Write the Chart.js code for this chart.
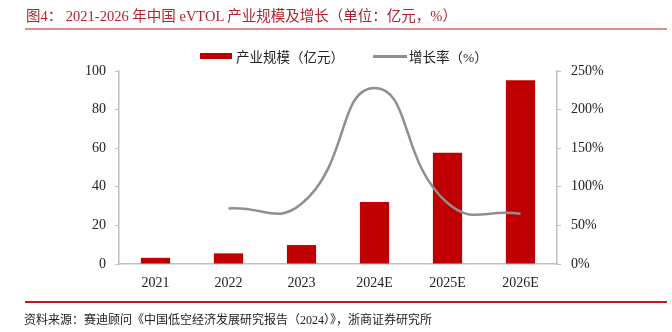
<!DOCTYPE html>
<html>
<head>
<meta charset="utf-8">
<script src="https://cdn.jsdelivr.net/npm/chart.js@4"></script>
<style>
  html, body { margin: 0; padding: 0; background: #fff; }
  #wrap { position: relative; width: 672px; height: 332px; overflow: hidden; }
  #chart { position: absolute; left: 0; top: 0; }
  .txt { position: absolute; white-space: nowrap; font-family: "Liberation Serif", "Noto Sans CJK SC", serif; }
  #title { left: 26px; top: 4px; font-size: 14.5px; color: #b3232b; }
  #topRule { position: absolute; left: 25px; top: 28px; width: 642px; height: 1.5px; background: #e08a8e; }
  #bottomRule { position: absolute; left: 25px; top: 301px; width: 642px; height: 1.5px; background: #c8161e; }
  #source { left: 24px; top: 310px; font-size: 12px; color: #222; }
  .legBox { position: absolute; left: 200px; top: 53px; width: 32px; height: 6px; background: #c00000; }
  .legLine { position: absolute; left: 373px; top: 55px; width: 34px; height: 2.5px; background: #8f8f8f; }
  #leg1 { left: 236px; top: 46px; font-size: 13.5px; color: #222; }
  #leg2 { left: 409px; top: 46px; font-size: 13.5px; color: #222; }
</style>
</head>
<body>
<div id="wrap">
  <canvas id="chart" width="672" height="332"></canvas>
  <div class="txt" id="title">图4：&nbsp;2021-2026 年中国 eVTOL 产业规模及增长（单位：亿元，%）</div>
  <div id="topRule"></div>
  <div class="legBox"></div>
  <div class="txt" id="leg1">产业规模（亿元）</div>
  <div class="legLine"></div>
  <div class="txt" id="leg2">增长率（%）</div>
  <div id="bottomRule"></div>
  <div class="txt" id="source">资料来源：赛迪顾问《中国低空经济发展研究报告（2024）》，浙商证券研究所</div>
</div>
<script>
// data
const years = ["2021", "2022", "2023", "2024E", "2025E", "2026E"];
const marketSize = [3.2, 5.5, 9.8, 32.1, 57.6, 95.2];   // 亿元
const growthRate = [null, 72, 78, 228, 79, 65];        // %
const leftTicks = [0, 20, 40, 60, 80, 100];
const rightTicks = [0, 50, 100, 150, 200, 250];

const axisGray = "#bfbfbf";
const tickFont = { family: "Liberation Serif", size: 14 };

new Chart(document.getElementById("chart"), {
    type: "bar",
    data: {
        labels: years,
        datasets: [
            {
                type: "line",
                label: "增长率（%）",
                data: growthRate,
                yAxisID: "y2",
                borderColor: "#8f8f8f",
                borderWidth: 2.5,
                pointRadius: 0,
                tension: 0.5,
                fill: false,
                order: 0
            },
            {
                label: "产业规模（亿元）",
                data: marketSize,
                yAxisID: "y",
                backgroundColor: "#c00000",
                barPercentage: 0.4,
                categoryPercentage: 1,
                order: 1
            }
        ]
    },
    options: {
        responsive: false,
        animation: false,
        layout: { padding: { top: 71, bottom: 0, left: 0, right: 0 } },
        plugins: {
            legend: { display: false },
            tooltip: { enabled: false }
        },
        scales: {
            x: {
                afterFit: (s) => { s.height = 68; },
                grid: { display: false, drawTicks: false },
                border: { color: axisGray, width: 1.5 },
                ticks: { color: "#222", font: tickFont, padding: 11 }
            },
            y: {
                position: "left",
                min: 0,
                max: 100,
                afterFit: (s) => { s.width = 119; },
                afterBuildTicks: (s) => { s.ticks = leftTicks.map(v => ({ value: v })); },
                grid: { drawOnChartArea: false, tickLength: 4, tickColor: axisGray },
                border: { color: axisGray, width: 1.5 },
                ticks: { color: "#222", font: tickFont, padding: 9 }
            },
            y2: {
                position: "right",
                min: 0,
                max: 250,
                afterFit: (s) => { s.width = 115; },
                afterBuildTicks: (s) => { s.ticks = rightTicks.map(v => ({ value: v })); },
                grid: { drawOnChartArea: false, tickLength: 4, tickColor: axisGray },
                border: { color: axisGray, width: 1.5 },
                ticks: { color: "#222", font: tickFont, padding: 10, callback: (v) => v + "%" }
            }
        }
    }
});
</script>
</body>
</html>
